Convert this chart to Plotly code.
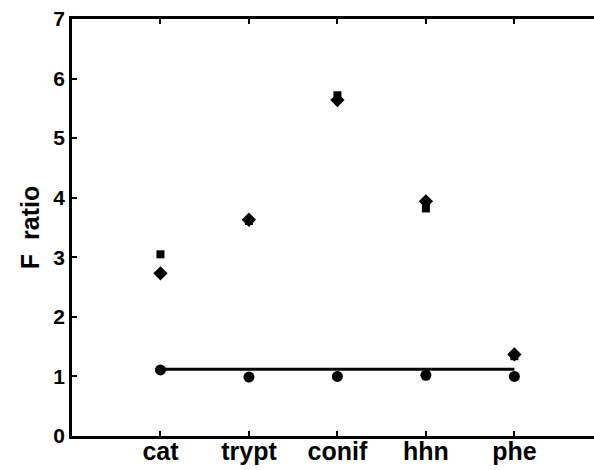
import plotly.graph_objects as go

categories = ["cat", "trypt", "conif", "hhn", "phe"]
x_pos = [1, 2, 3, 4, 5]
square_vals = [3.05, 3.61, 5.72, 3.82, 1.34]
diamond_vals = [2.73, 3.63, 5.64, 3.94, 1.37]
circle_vals = [1.11, 0.99, 1.00, 1.02, 1.00]
line_y = [1.12, 1.12]
line_x = [1, 5]

fig = go.Figure()
fig.add_trace(go.Scatter(x=line_x, y=line_y, mode="lines",
                         line=dict(color="black", width=3), showlegend=False))
fig.add_trace(go.Scatter(x=x_pos, y=square_vals, mode="markers",
                         marker=dict(symbol="square", size=8, color="black"), showlegend=False))
fig.add_trace(go.Scatter(x=x_pos, y=diamond_vals, mode="markers",
                         marker=dict(symbol="diamond", size=11, color="black"), showlegend=False))
fig.add_trace(go.Scatter(x=x_pos, y=circle_vals, mode="markers",
                         marker=dict(symbol="circle", size=11, color="black"), showlegend=False))

font = dict(family="Liberation Sans, Arial", size=18, color="black")
fig.update_layout(
    width=594, height=470,
    margin=dict(l=72, r=0, t=19, b=34),
    plot_bgcolor="white", paper_bgcolor="white",
    font=font,
    xaxis=dict(range=[0, 5.9], tickvals=x_pos,
               ticktext=["<b>%s</b>" % c for c in categories],
               showline=True, linecolor="black", linewidth=2.5, mirror="ticks",
               ticks="inside", ticklen=5, tickwidth=2, tickcolor="black",
               showgrid=False, zeroline=False, tickfont=dict(size=25),
               ticklabelstandoff=-9, automargin=False),
    yaxis=dict(range=[0, 7], tickvals=[0, 1, 2, 3, 4, 5, 6, 7],
               ticktext=["<b>%d</b>" % v for v in range(8)],
               showline=True, linecolor="black", linewidth=2.5, mirror=False,
               ticks="inside", ticklen=5, tickwidth=2, tickcolor="black",
               showgrid=False, zeroline=False, tickfont=dict(size=21),
               automargin=False,
               title=dict(text="<b>F\u00a0\u00a0ratio</b>", font=dict(size=25), standoff=7)),
)
fig.write_html("out.html")
